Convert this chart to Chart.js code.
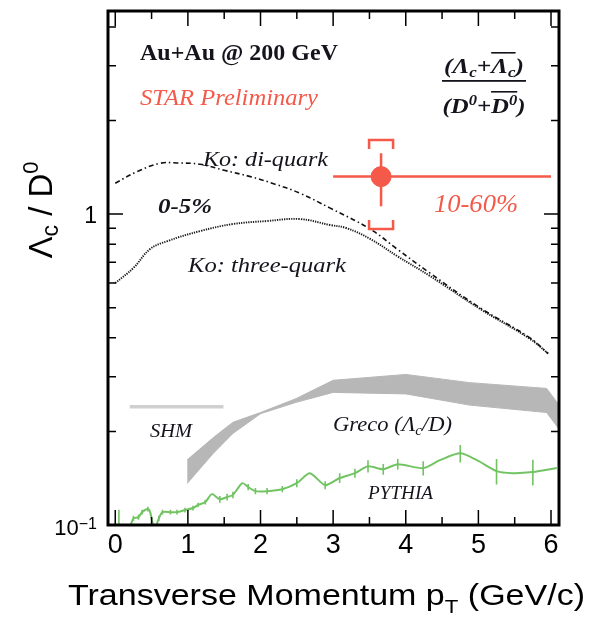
<!DOCTYPE html>
<html>
<head>
<meta charset="utf-8">
<script src="https://cdn.jsdelivr.net/npm/chart.js@4.4.1/dist/chart.umd.min.js"></script>
<style>
  html, body { margin: 0; padding: 0; background: #fff; }
  #wrap { width: 596px; height: 624px; }
</style>
</head>
<body>
<div id="wrap"><canvas id="chart" width="596" height="624"></canvas></div>
<script>
// Ko coalescence, di-quark (dash-dot)
const diquarkPt  = [0, 0.3, 0.62, 0.85, 1.17, 1.5, 1.86, 2.2, 2.54, 2.96, 3.51, 3.88, 4.33, 5.02, 5.71, 5.96];
const diquarkVal = [1.257, 1.37, 1.457, 1.46, 1.446, 1.383, 1.32, 1.248, 1.168, 1.045, 0.895, 0.772, 0.647, 0.50, 0.40, 0.356];

// Ko coalescence, three-quark (dotted)
const threeqPt  = [0, 0.25, 0.48, 0.72, 1.17, 1.62, 2.09, 2.54, 2.96, 3.18, 3.51, 3.88, 4.33, 5.02, 5.71, 5.96];
const threeqVal = [0.600, 0.671, 0.772, 0.819, 0.882, 0.929, 0.950, 0.964, 0.922, 0.902, 0.832, 0.733, 0.633, 0.496, 0.397, 0.356];

// Greco band
const grecoPt    = [0.99, 1.35, 1.62, 2.0, 2.49, 3.0, 4.0, 4.88, 5.94, 6.1];
const grecoUpper = [0.162, 0.191, 0.214, 0.230, 0.255, 0.292, 0.305, 0.287, 0.275, 0.245];
const grecoLower = [0.136, 0.170, 0.197, 0.228, 0.248, 0.267, 0.264, 0.243, 0.230, 0.205];

// SHM
const shmPt  = [0.2, 1.49];
const shmVal = [0.24, 0.24];

// PYTHIA
const pythiaPt  = [0.05, 0.21, 0.25, 0.32, 0.37, 0.45, 0.48, 0.54, 0.60, 0.65, 0.76, 0.85, 0.96, 1.07, 1.14, 1.24, 1.33, 1.44, 1.54, 1.62, 1.75, 1.83, 1.93, 2.09, 2.30, 2.50, 2.68, 2.89, 3.09, 3.30, 3.48, 3.69, 3.89, 4.24, 4.47, 4.75, 4.98, 5.25, 5.47, 5.75, 6.08];
const pythiaVal = [0.090, 0.100, 0.105, 0.106, 0.110, 0.1125, 0.110, 0.097, 0.105, 0.110, 0.110, 0.110, 0.1117, 0.1134, 0.116, 0.1185, 0.1257, 0.121, 0.123, 0.125, 0.1363, 0.1324, 0.1285, 0.1285, 0.1304, 0.1363, 0.1468, 0.1343, 0.1416, 0.1468, 0.1545, 0.1512, 0.1569, 0.1524, 0.1616, 0.170, 0.1616, 0.149, 0.1468, 0.148, 0.1524];
const pythiaErr = [0.022, 0, 0.002, 0.002, 0.002, 0.002, 0, 0, 0.002, 0.002, 0.002, 0.002, 0.002, 0.002, 0.002, 0.002, 0, 0.003, 0.003, 0.003, 0, 0.003, 0.003, 0.003, 0.003, 0.004, 0, 0.004, 0.005, 0.005, 0.007, 0.006, 0.006, 0.008, 0, 0.011, 0, 0.014, 0, 0.014, 0];

// STAR point, 10-60%
const starPt = [3.66];
const starVal = [1.32];
const starPtLow = [3.0];
const starPtHigh = [6.0];
const starStatLow = [1.06];
const starStatHigh = [1.57];
const starSysLow = [0.895];
const starSysHigh = [1.73];

// axis ticks
const xTickValues = [0, 1, 2, 3, 4, 5, 6];
const xMinorTicks = [0.5, 1.5, 2.5, 3.5, 4.5, 5.5];
const yTickValues = [0.1, 1];
const yTickLabels = [['10', '\u22121'], ['1', '']];
const yMinorTicks = [0.2, 0.3, 0.4, 0.5, 0.6, 0.7, 0.8, 0.9, 2, 3, 4];

const SERIF = '"Liberation Serif", "Times New Roman", serif';
const SANS = '"Liberation Sans", Arial, Helvetica, sans-serif';
const RED = '#f4594a';
const TEXT = '#14141c';

const pts = (xs, ys) => xs.map((x, i) => ({ x: x, y: ys[i] }));

// draw a run of text pieces: [text, font, dy, overlineY]
function textRun(ctx, parts, x, y, opts) {
    opts = opts || {};
    let w = 0;
    const ws = parts.map(p => {
        ctx.font = p[1];
        const m = ctx.measureText(p[0]).width;
        w += m;
        return m;
    });
    const sx = opts.width ? opts.width / w : 1;
    ctx.save();
    ctx.fillStyle = opts.color || TEXT;
    ctx.textBaseline = 'alphabetic';
    ctx.textAlign = 'left';
    ctx.translate(x, y);
    if (opts.rotate) ctx.rotate(opts.rotate);
    if (opts.align === 'center') ctx.translate(-w * sx / 2, 0);
    if (opts.align === 'right') ctx.translate(-w * sx, 0);
    ctx.scale(sx, 1);
    let cx = 0;
    parts.forEach((p, i) => {
        ctx.font = p[1];
        ctx.fillText(p[0], cx, p[2] || 0);
        if (p[3]) ctx.fillRect(cx, p[3], ws[i], 1.6);
        cx += ws[i];
    });
    ctx.restore();
}

function clipTo(ctx, a) {
    ctx.save();
    ctx.beginPath();
    ctx.rect(a.left, a.top, a.right - a.left, a.bottom - a.top);
    ctx.clip();
}

const rootStyle = {
    id: 'rootStyle',
    beforeDatasetDraw(chart, args) {
        if (args.index !== 0) return;
        const ctx = chart.ctx, xs = chart.scales.x, ys = chart.scales.y;
        clipTo(ctx, chart.chartArea);
        ctx.strokeStyle = RED;
        ctx.lineWidth = 2.5;
        starPt.forEach((p, i) => {
            const px = xs.getPixelForValue(p), py = ys.getPixelForValue(starVal[i]);
            ctx.beginPath();
            ctx.moveTo(xs.getPixelForValue(starPtLow[i]), py);
            ctx.lineTo(xs.getPixelForValue(starPtHigh[i]), py);
            ctx.moveTo(px, ys.getPixelForValue(starStatLow[i]));
            ctx.lineTo(px, ys.getPixelForValue(starStatHigh[i]));
            ctx.stroke();
            // systematic brackets
            const hw = 12, leg = 9;
            const top = ys.getPixelForValue(starSysHigh[i]);
            const bot = ys.getPixelForValue(starSysLow[i]);
            ctx.beginPath();
            ctx.moveTo(px - hw, top + leg); ctx.lineTo(px - hw, top); ctx.lineTo(px + hw, top); ctx.lineTo(px + hw, top + leg);
            ctx.moveTo(px - hw, bot - leg); ctx.lineTo(px - hw, bot); ctx.lineTo(px + hw, bot); ctx.lineTo(px + hw, bot - leg);
            ctx.stroke();
        });
        ctx.restore();
    },
    afterDatasetDraw(chart, args) {
        if (args.index !== 3) return;
        const ctx = chart.ctx, xs = chart.scales.x, ys = chart.scales.y;
        clipTo(ctx, chart.chartArea);
        ctx.strokeStyle = '#72c463';
        ctx.lineWidth = 1.6;
        ctx.beginPath();
        pythiaPt.forEach((p, i) => {
            if (!pythiaErr[i]) return;
            const px = xs.getPixelForValue(p);
            ctx.moveTo(px, ys.getPixelForValue(pythiaVal[i] - pythiaErr[i]));
            ctx.lineTo(px, ys.getPixelForValue(pythiaVal[i] + pythiaErr[i]));
        });
        ctx.stroke();
        ctx.restore();
    },
    afterDraw(chart) {
        const ctx = chart.ctx, a = chart.chartArea, xs = chart.scales.x, ys = chart.scales.y;
        ctx.save();
        ctx.strokeStyle = '#000';
        // ticks, pointing inward on all four sides
        ctx.lineWidth = 1.5;
        ctx.beginPath();
        const xt = (v, len) => {
            const px = xs.getPixelForValue(v);
            ctx.moveTo(px, a.bottom); ctx.lineTo(px, a.bottom - len);
            ctx.moveTo(px, a.top); ctx.lineTo(px, a.top + len);
        };
        const yt = (v, len) => {
            const py = ys.getPixelForValue(v);
            ctx.moveTo(a.left, py); ctx.lineTo(a.left + len, py);
            ctx.moveTo(a.right, py); ctx.lineTo(a.right - len, py);
        };
        xTickValues.forEach(v => xt(v, 15));
        xMinorTicks.forEach(v => xt(v, 8));
        yTickValues.forEach(v => yt(v, 15));
        yMinorTicks.forEach(v => yt(v, 8));
        ctx.stroke();
        // frame
        ctx.lineWidth = 3;
        ctx.strokeRect(a.left, a.top, a.right - a.left, a.bottom - a.top);
        ctx.restore();

        // tick labels
        ctx.save();
        ctx.fillStyle = '#000';
        ctx.font = '27px ' + SANS;
        ctx.textAlign = 'center';
        ctx.textBaseline = 'alphabetic';
        xTickValues.forEach(v => ctx.fillText(String(v), xs.getPixelForValue(v), 553));
        ctx.restore();
        yTickValues.forEach((v, i) => {
            const py = ys.getPixelForValue(v);
            const lab = yTickLabels[i];
            if (lab[1]) {
                textRun(ctx, [[lab[0], '22px ' + SANS], [lab[1], '16px ' + SANS, -6]], 97, py + 10, { align: 'right', color: '#000' });
            } else {
                textRun(ctx, [[lab[0], '23px ' + SANS]], 97, py + 9, { align: 'right', color: '#000' });
            }
        });

        // axis titles
        textRun(ctx, [['Transverse Momentum p', '29px ' + SANS], ['T', '19px ' + SANS, 8], [' (GeV/c)', '29px ' + SANS]],
            68, 605, { width: 517, color: '#000' });
        textRun(ctx, [['\u039B', '33px ' + SANS], ['c', '23px ' + SANS, 6], [' / D', '33px ' + SANS], ['0', '22px ' + SANS, -14]],
            52, 210, { rotate: -Math.PI / 2, align: 'center', color: '#000' });

        // annotations
        const it = s => 'italic ' + s + 'px ' + SERIF;
        const bi = s => 'italic bold ' + s + 'px ' + SERIF;
        textRun(ctx, [['Au+Au @ 200 GeV', 'bold 23px ' + SERIF]], 140, 60, { width: 198 });
        textRun(ctx, [['STAR Preliminary', it(24)]], 140, 105, { width: 178, color: RED });
        textRun(ctx, [['(', bi(21)], ['\u039B', bi(21)], ['c', bi(14), 4], ['+', bi(21)], ['\u039B', bi(21), 0, -21], ['c', bi(14), 4, -21], [')', bi(21)]],
            484, 73, { align: 'center', width: 80 });
        ctx.fillStyle = TEXT;
        ctx.fillRect(442, 80, 84, 1.8);
        textRun(ctx, [['(', bi(21)], ['D', bi(21)], ['0', bi(14), -8], ['+', bi(21)], ['D', bi(21), 0, -22], ['0', bi(14), -8, -22], [')', bi(21)]],
            484, 113, { align: 'center', width: 83 });
        textRun(ctx, [['Ko: di-quark', it(21)]], 203, 166, { width: 125 });
        textRun(ctx, [['0-5%', bi(21)]], 158, 213, { width: 54 });
        textRun(ctx, [['Ko: three-quark', it(21)]], 188, 272, { width: 158 });
        textRun(ctx, [['10-60%', it(25)]], 434, 212, { width: 84, color: RED });
        textRun(ctx, [['SHM', it(19)]], 150, 437, { width: 42 });
        textRun(ctx, [['Greco (', it(21)], ['\u039B', it(21)], ['c', it(14), 4], ['/D)', it(21)]], 333, 431, { width: 119 });
        textRun(ctx, [['PYTHIA', it(19)]], 368, 499, { width: 65 });
    }
};

new Chart(document.getElementById('chart'), {
    type: 'scatter',
    data: {
        datasets: [
            {
                label: 'STAR 10-60%',
                data: pts(starPt, starVal),
                pointRadius: 10,
                pointBackgroundColor: RED,
                pointBorderColor: RED,
                showLine: false,
                order: 0
            },
            {
                label: 'Ko: di-quark',
                data: pts(diquarkPt, diquarkVal),
                showLine: true,
                borderColor: '#111',
                borderWidth: 1.6,
                borderDash: [5, 3, 1.5, 3],
                pointRadius: 0,
                tension: 0.4,
                order: 1
            },
            {
                label: 'Ko: three-quark',
                data: pts(threeqPt, threeqVal),
                showLine: true,
                borderColor: '#1a1a1a',
                borderWidth: 1.9,
                borderDash: [1.3, 1.1],
                pointRadius: 0,
                tension: 0.4,
                order: 1
            },
            {
                label: 'PYTHIA',
                data: pts(pythiaPt, pythiaVal),
                showLine: true,
                borderColor: '#72c463',
                borderWidth: 2,
                pointRadius: 0,
                tension: 0.25,
                order: 2
            },
            {
                label: 'SHM',
                data: pts(shmPt, shmVal),
                showLine: true,
                borderColor: '#d0d0d0',
                borderWidth: 3.5,
                pointRadius: 0,
                order: 3
            },
            {
                label: 'Greco upper',
                data: pts(grecoPt, grecoUpper),
                showLine: true,
                borderColor: '#b7b7b7',
                borderWidth: 1,
                backgroundColor: '#b7b7b7',
                fill: '+1',
                pointRadius: 0,
                order: 4
            },
            {
                label: 'Greco lower',
                data: pts(grecoPt, grecoLower),
                showLine: true,
                borderColor: '#b7b7b7',
                borderWidth: 1,
                pointRadius: 0,
                order: 4
            }
        ]
    },
    options: {
        responsive: false,
        animation: false,
        devicePixelRatio: 1,
        layout: { padding: { left: 108, right: 37, top: 9, bottom: 99 } },
        scales: {
            x: { type: 'linear', min: -0.1, max: 6.11, display: false },
            y: { type: 'logarithmic', min: 0.1, max: 4.5, display: false }
        },
        plugins: {
            legend: { display: false },
            tooltip: { enabled: false }
        }
    },
    plugins: [rootStyle]
});
</script>
</body>
</html>
